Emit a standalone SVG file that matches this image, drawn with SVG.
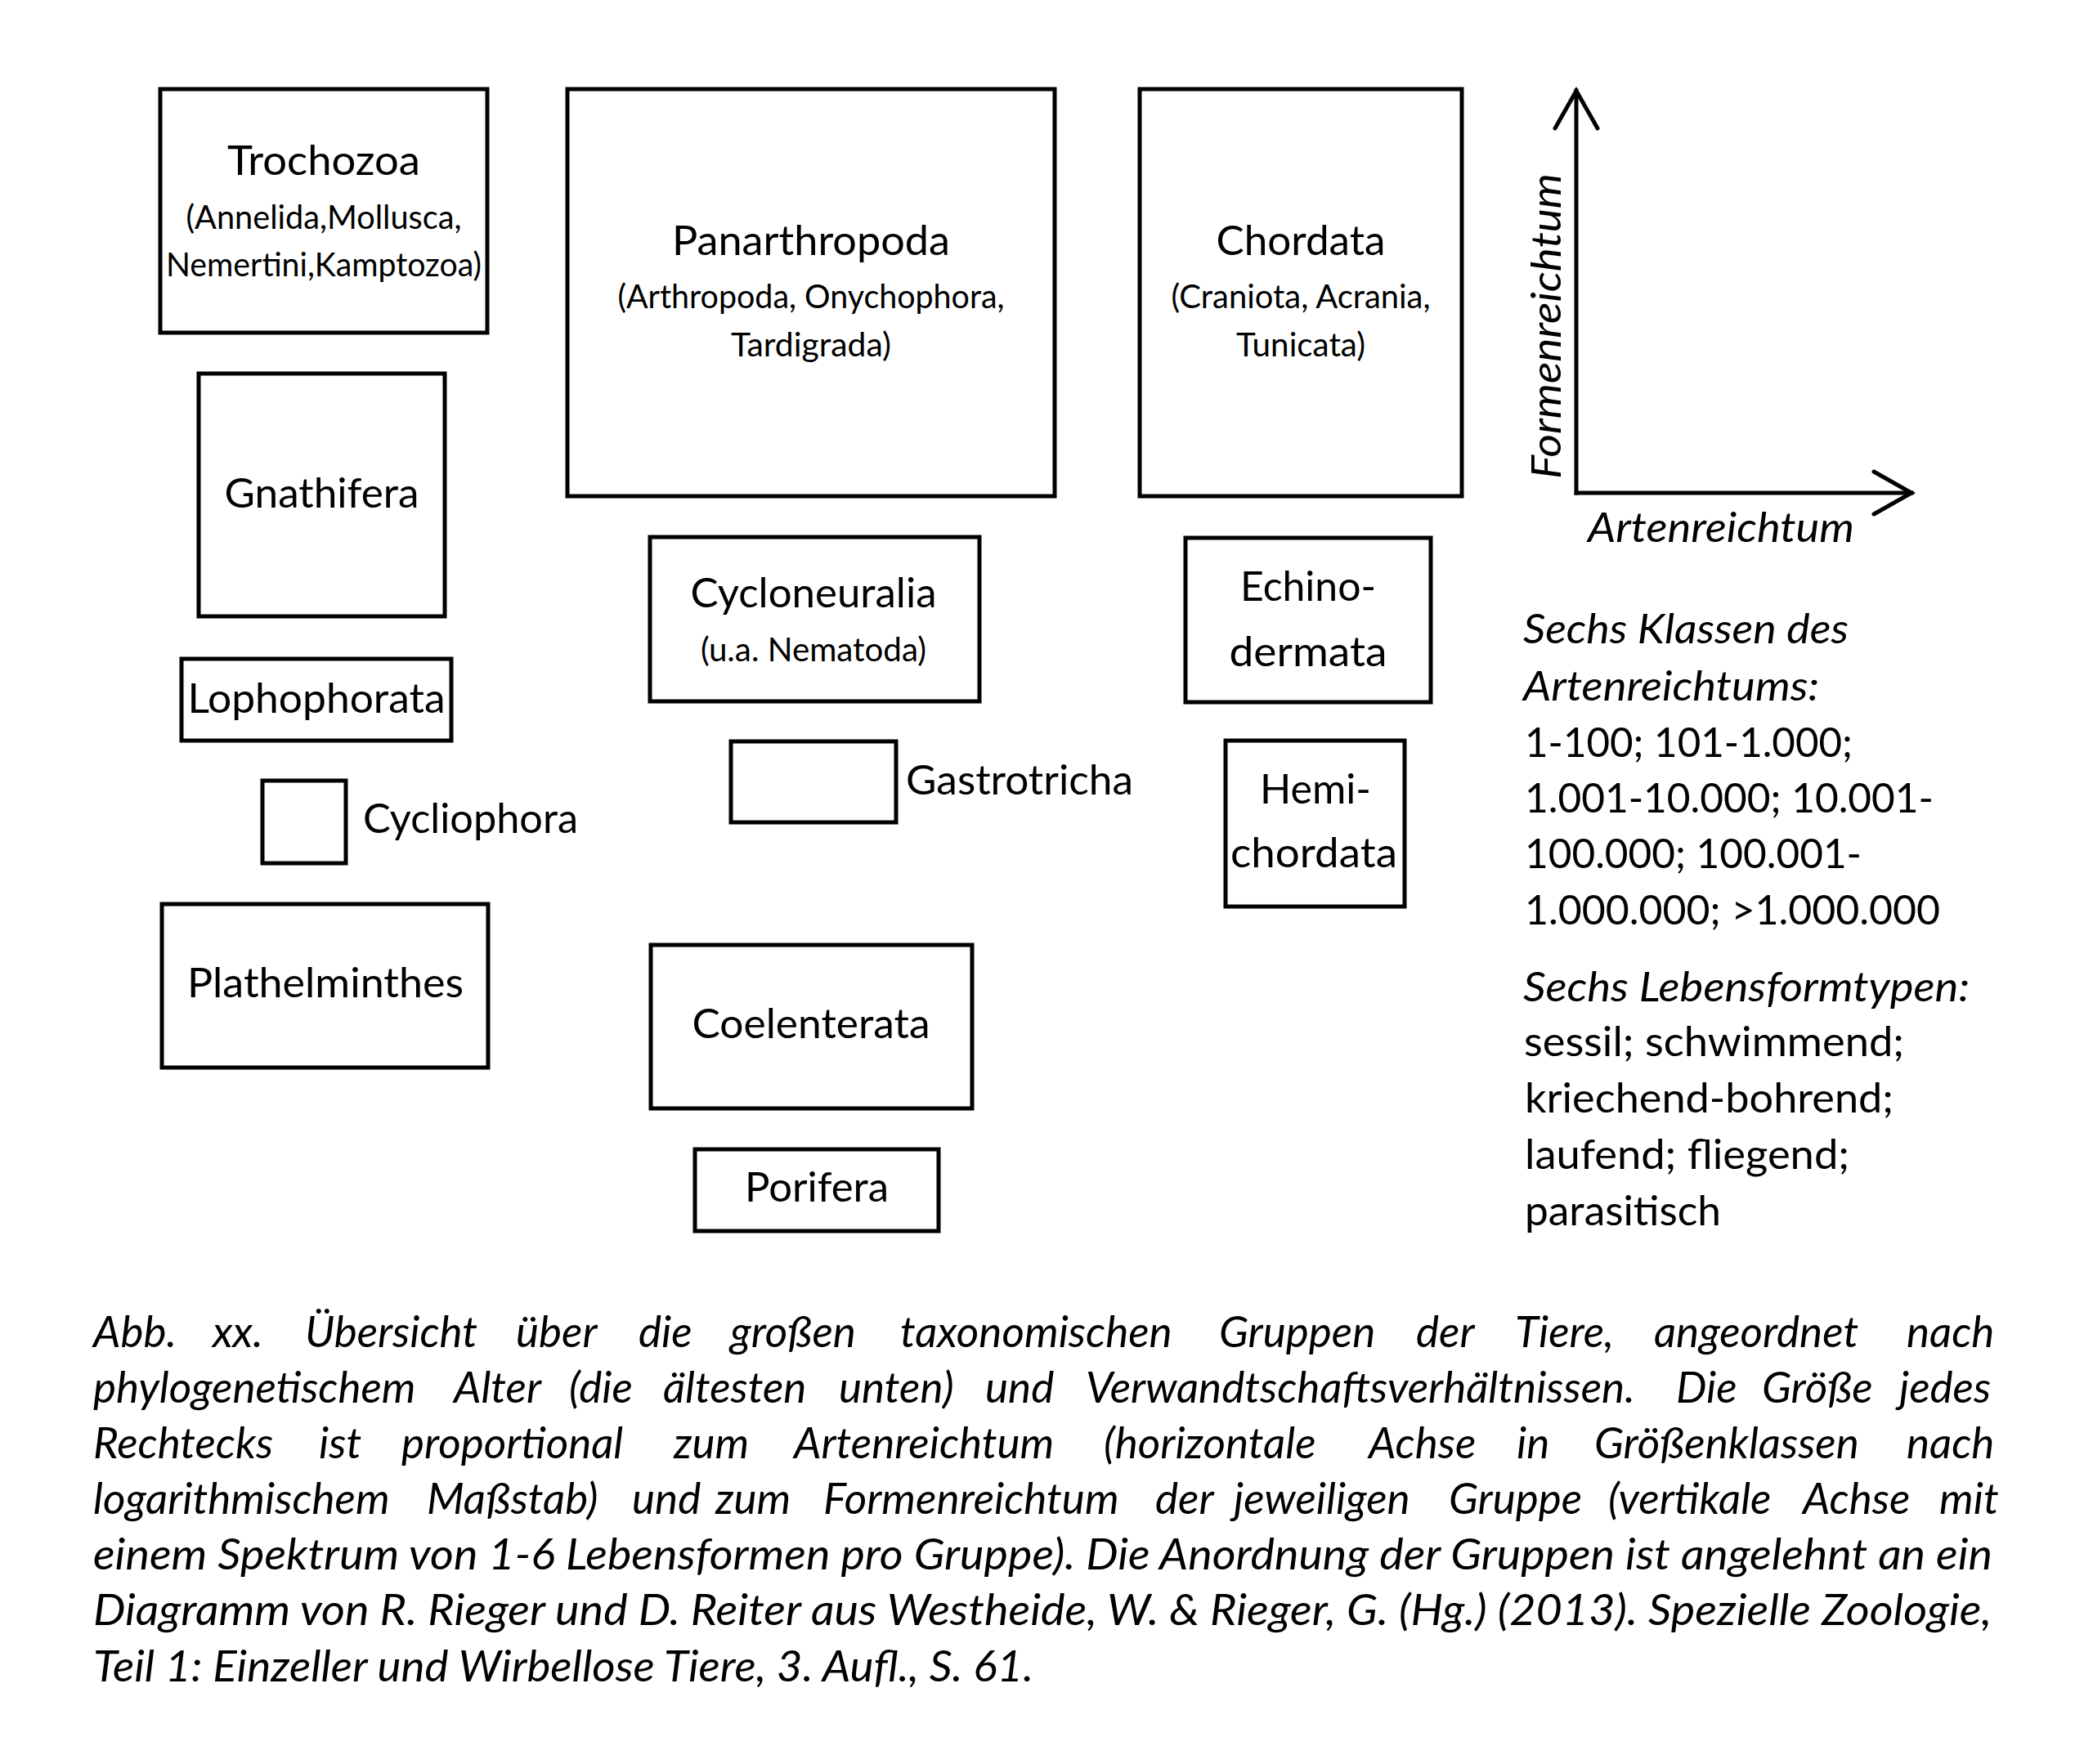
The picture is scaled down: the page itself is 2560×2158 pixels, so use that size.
<svg xmlns="http://www.w3.org/2000/svg" width="2560" height="2158" viewBox="0 0 2560 2158">
<style>
.box{fill:none;stroke:#000;stroke-width:5}
.t{font-family:Lato,"Open Sans","Liberation Sans",sans-serif;font-size:50px;fill:#000}
.s{font-size:40px}
.i{font-style:italic}
.c{text-anchor:middle}
.cap{font-size:53px}
.ax{fill:none;stroke:#000;stroke-width:5}
</style>
<defs>
<marker id="open" markerUnits="userSpaceOnUse" viewBox="-60 -40 70 80" refX="0" refY="0" markerWidth="70" markerHeight="80" orient="auto">
<path d="M-46,-26 L0,0 L-46,26" fill="none" stroke="#000" stroke-width="5" stroke-linecap="round" stroke-linejoin="miter"/>
</marker>
</defs>
<rect x="0" y="0" width="2560" height="2158" fill="#fff"/>

<g id="trochozoa">
<rect class="box" x="196" y="109" width="400" height="298"/>
<text class="t c" x="396" y="214" textLength="236" lengthAdjust="spacingAndGlyphs">Trochozoa</text>
<text class="t s c" x="396" y="280" textLength="337" lengthAdjust="spacingAndGlyphs">(Annelida,Mollusca,</text>
<text class="t s c" x="396" y="338" textLength="386" lengthAdjust="spacingAndGlyphs">Nemertini,Kamptozoa)</text>
</g>

<g id="panarthropoda">
<rect class="box" x="694" y="109" width="596" height="498"/>
<text class="t c" x="992" y="312" textLength="340" lengthAdjust="spacingAndGlyphs">Panarthropoda</text>
<text class="t s c" x="992" y="377" textLength="473" lengthAdjust="spacingAndGlyphs">(Arthropoda, Onychophora,</text>
<text class="t s c" x="992" y="436" textLength="196" lengthAdjust="spacingAndGlyphs">Tardigrada)</text>
</g>

<g id="chordata">
<rect class="box" x="1394" y="109" width="394" height="498"/>
<text class="t c" x="1591" y="312" textLength="207" lengthAdjust="spacingAndGlyphs">Chordata</text>
<text class="t s c" x="1591" y="377" textLength="317" lengthAdjust="spacingAndGlyphs">(Craniota, Acrania,</text>
<text class="t s c" x="1591" y="436" textLength="158" lengthAdjust="spacingAndGlyphs">Tunicata)</text>
</g>

<g id="gnathifera">
<rect class="box" x="243" y="457" width="301" height="297"/>
<text class="t c" x="393.5" y="621" textLength="238" lengthAdjust="spacingAndGlyphs">Gnathifera</text>
</g>

<g id="lophophorata">
<rect class="box" x="222" y="806" width="330" height="100"/>
<text class="t c" x="387" y="872" textLength="315" lengthAdjust="spacingAndGlyphs">Lophophorata</text>
</g>

<g id="cycliophora">
<rect class="box" x="321" y="955" width="102" height="101"/>
<text class="t" x="444" y="1019" textLength="263" lengthAdjust="spacingAndGlyphs">Cycliophora</text>
</g>

<g id="plathelminthes">
<rect class="box" x="198" y="1106" width="399" height="200"/>
<text class="t c" x="398" y="1220" textLength="338" lengthAdjust="spacingAndGlyphs">Plathelminthes</text>
</g>

<g id="cycloneuralia">
<rect class="box" x="795" y="657" width="403" height="201"/>
<text class="t c" x="995" y="743" textLength="301" lengthAdjust="spacingAndGlyphs">Cycloneuralia</text>
<text class="t s c" x="995" y="809" textLength="276" lengthAdjust="spacingAndGlyphs">(u.a. Nematoda)</text>
</g>

<g id="gastrotricha">
<rect class="box" x="894" y="907" width="202" height="99"/>
<text class="t" x="1108" y="972" textLength="278" lengthAdjust="spacingAndGlyphs">Gastrotricha</text>
</g>

<g id="coelenterata">
<rect class="box" x="796" y="1156" width="393" height="200"/>
<text class="t c" x="992" y="1270" textLength="291" lengthAdjust="spacingAndGlyphs">Coelenterata</text>
</g>

<g id="porifera">
<rect class="box" x="850" y="1406" width="298" height="100"/>
<text class="t c" x="999" y="1470" textLength="176" lengthAdjust="spacingAndGlyphs">Porifera</text>
</g>

<g id="echinodermata">
<rect class="box" x="1450" y="658" width="300" height="201"/>
<text class="t c" x="1600" y="735" textLength="166" lengthAdjust="spacingAndGlyphs">Echino-</text>
<text class="t c" x="1600" y="815" textLength="193" lengthAdjust="spacingAndGlyphs">dermata</text>
</g>

<g id="hemichordata">
<rect class="box" x="1499" y="906" width="219" height="203"/>
<text class="t c" x="1609" y="983" textLength="136" lengthAdjust="spacingAndGlyphs">Hemi-</text>
<text class="t c" x="1607" y="1061" textLength="204" lengthAdjust="spacingAndGlyphs">chordata</text>
</g>

<g id="axes">
<line class="ax" x1="1928" y1="603" x2="1928" y2="111" stroke-linecap="square" marker-end="url(#open)"/>
<line class="ax" x1="1928" y1="603" x2="2338" y2="603" stroke-linecap="square" marker-end="url(#open)"/>
<text class="t i c" transform="translate(1909,399) rotate(-90)" textLength="374" lengthAdjust="spacingAndGlyphs">Formenreichtum</text>
<text class="t i" x="1942" y="663" textLength="326" lengthAdjust="spacingAndGlyphs">Artenreichtum</text>
</g>

<g id="legend">
<text class="t i" x="1863" y="787" textLength="398" lengthAdjust="spacingAndGlyphs">Sechs Klassen des</text>
<text class="t i" x="1863" y="857" textLength="362" lengthAdjust="spacingAndGlyphs">Artenreichtums:</text>
<text class="t" x="1865" y="926" textLength="401" lengthAdjust="spacingAndGlyphs">1-100; 101-1.000;</text>
<text class="t" x="1865" y="994" textLength="500" lengthAdjust="spacingAndGlyphs">1.001-10.000; 10.001-</text>
<text class="t" x="1865" y="1062" textLength="412" lengthAdjust="spacingAndGlyphs">100.000; 100.001-</text>
<text class="t" x="1865" y="1131" textLength="508" lengthAdjust="spacingAndGlyphs">1.000.000; &gt;1.000.000</text>
<text class="t i" x="1863" y="1225" textLength="546" lengthAdjust="spacingAndGlyphs">Sechs Lebensformtypen:</text>
<text class="t" x="1864" y="1292" textLength="465" lengthAdjust="spacingAndGlyphs">sessil; schwimmend;</text>
<text class="t" x="1865" y="1361" textLength="451" lengthAdjust="spacingAndGlyphs">kriechend-bohrend;</text>
<text class="t" x="1865" y="1430" textLength="397" lengthAdjust="spacingAndGlyphs">laufend; fliegend;</text>
<text class="t" x="1865" y="1499" textLength="240" lengthAdjust="spacingAndGlyphs">parasitisch</text>
</g>

<g id="caption" class="t i cap">
<text y="1648"><tspan x="114">Abb.</tspan><tspan x="260">xx.</tspan><tspan x="373">Übersicht</tspan><tspan x="631">über</tspan><tspan x="781">die</tspan><tspan x="893">großen</tspan><tspan x="1101">taxonomischen</tspan><tspan x="1491">Gruppen</tspan><tspan x="1732">der</tspan><tspan x="1853">Tiere,</tspan><tspan x="2023">angeordnet</tspan><tspan x="2332">nach</tspan></text>
<text y="1716"><tspan x="114">phylogenetischem</tspan><tspan x="555">Alter</tspan><tspan x="696">(die</tspan><tspan x="811">ältesten</tspan><tspan x="1026">unten)</tspan><tspan x="1205">und</tspan><tspan x="1328">Verwandtschaftsverhältnissen.</tspan><tspan x="2050">Die</tspan><tspan x="2155">Größe</tspan><tspan x="2323">jedes</tspan></text>
<text y="1784"><tspan x="114">Rechtecks</tspan><tspan x="390">ist</tspan><tspan x="491">proportional</tspan><tspan x="824">zum</tspan><tspan x="971">Artenreichtum</tspan><tspan x="1350">(horizontale</tspan><tspan x="1674">Achse</tspan><tspan x="1855">in</tspan><tspan x="1950">Größenklassen</tspan><tspan x="2332">nach</tspan></text>
<text y="1852"><tspan x="114">logarithmischem</tspan><tspan x="522">Maßstab)</tspan><tspan x="773">und</tspan><tspan x="875">zum</tspan><tspan x="1007">Formenreichtum</tspan><tspan x="1413">der</tspan><tspan x="1509">jeweiligen</tspan><tspan x="1772">Gruppe</tspan><tspan x="1967">(vertikale</tspan><tspan x="2205">Achse</tspan><tspan x="2372">mit</tspan></text>
<text x="114" y="1920" textLength="2323" lengthAdjust="spacingAndGlyphs">einem Spektrum von 1-6 Lebensformen pro Gruppe). Die Anordnung der Gruppen ist angelehnt an ein</text>
<text x="114" y="1988" textLength="2322" lengthAdjust="spacingAndGlyphs">Diagramm von R. Rieger und D. Reiter aus Westheide, W. &amp; Rieger, G. (Hg.) (2013). Spezielle Zoologie,</text>
<text x="114" y="2057" textLength="1150" lengthAdjust="spacingAndGlyphs">Teil 1: Einzeller und Wirbellose Tiere, 3. Aufl., S. 61.</text>
</g>
</svg>
